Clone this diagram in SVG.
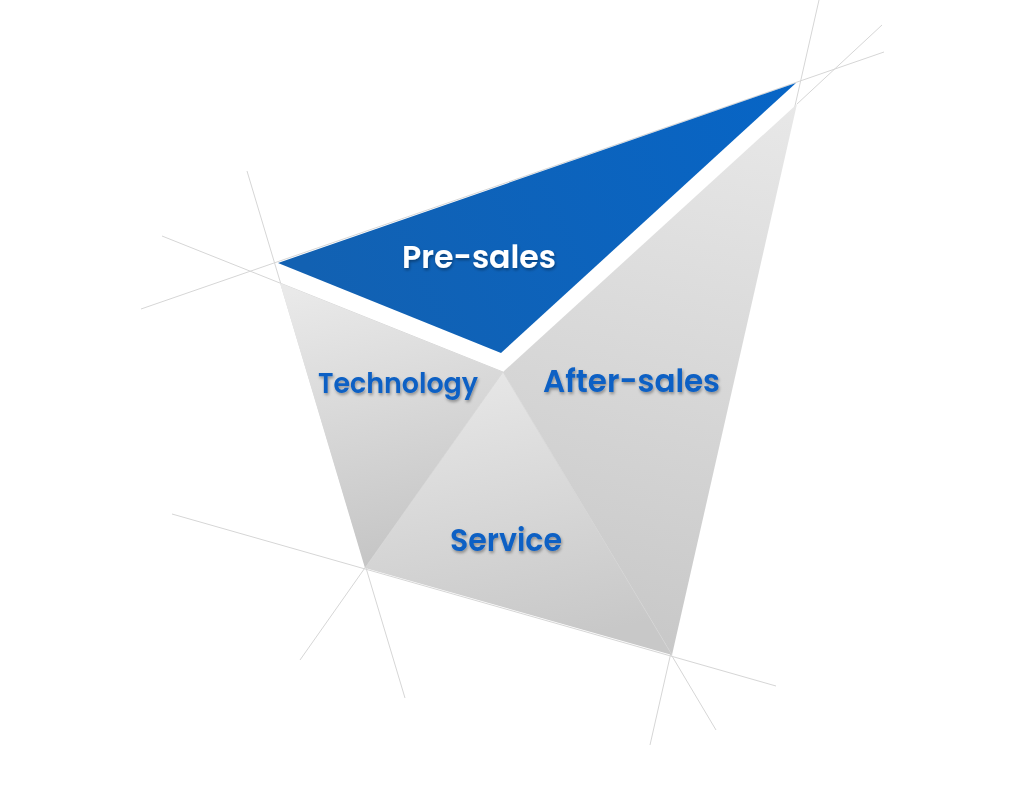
<svg xmlns="http://www.w3.org/2000/svg" width="1024" height="789" viewBox="0 0 1024 789">
  <defs>
    <style>
      .guide { stroke: #d6d6d6; stroke-width: 1; fill: none; }
      .label { font-family: Poppins, Inter, "Open Sans", "Liberation Sans", sans-serif; font-weight: 600; text-anchor: start; }
      .blue-label { fill: #0b60c4; }
      .white-label { fill: #ffffff; }
    </style>
    <filter id="shadow" x="-10%" y="-30%" width="120%" height="170%">
      <feDropShadow dx="1" dy="2" stdDeviation="1.5" flood-color="#000000" flood-opacity="0.35"/>
    </filter>
    <linearGradient id="gBlue" gradientUnits="userSpaceOnUse" x1="796" y1="83" x2="320" y2="300">
      <stop offset="0" stop-color="#0765c6"/>
      <stop offset="1" stop-color="#1261b2"/>
    </linearGradient>
    <linearGradient id="gTech" gradientUnits="userSpaceOnUse" x1="300" y1="290" x2="370" y2="568">
      <stop offset="0" stop-color="#e9e9e9"/>
      <stop offset="1" stop-color="#c5c5c5"/>
    </linearGradient>
    <linearGradient id="gAfter" gradientUnits="userSpaceOnUse" x1="797" y1="104" x2="672" y2="655">
      <stop offset="0" stop-color="#e8e8e8"/>
      <stop offset="1" stop-color="#c8c8c8"/>
    </linearGradient>
    <linearGradient id="gService" gradientUnits="userSpaceOnUse" x1="503" y1="372" x2="560" y2="640">
      <stop offset="0" stop-color="#e6e6e6"/>
      <stop offset="1" stop-color="#c8c8c8"/>
    </linearGradient>
  </defs>

  <rect width="1024" height="789" fill="#ffffff"/>

  <g id="guides">
    <line class="guide" x1="247" y1="171" x2="405" y2="698"/>
    <line class="guide" x1="162" y1="236" x2="503" y2="372"/>
    <line class="guide" x1="141" y1="309" x2="884" y2="52"/>
    <line class="guide" x1="819" y1="0" x2="650" y2="745"/>
    <line class="guide" x1="882" y1="25" x2="797" y2="104"/>
    <line class="guide" x1="503" y1="372" x2="300" y2="660"/>
    <line class="guide" x1="172" y1="514" x2="776" y2="686"/>
    <line class="guide" x1="503" y1="372" x2="716" y2="730"/>
  </g>

  <g id="technology">
    <polygon points="280,283 503,372 365,568" fill="url(#gTech)"/>
    <text class="label blue-label" x="318" y="393" font-size="28" textLength="160" lengthAdjust="spacingAndGlyphs" filter="url(#shadow)">Technology</text>
  </g>

  <g id="after-sales">
    <polygon points="503,372 797,104 672,655" fill="url(#gAfter)"/>
    <text class="label blue-label" x="543" y="392" font-size="32" textLength="177" lengthAdjust="spacingAndGlyphs" filter="url(#shadow)">After-sales</text>
  </g>

  <g id="service">
    <polygon points="503,372 365,568 672,655" fill="url(#gService)"/>
    <text class="label blue-label" x="450" y="551" font-size="32" textLength="112" lengthAdjust="spacingAndGlyphs" filter="url(#shadow)">Service</text>
  </g>

  <g id="guides-over" opacity="0.6">
    <line class="guide" x1="503" y1="372" x2="365" y2="568"/>
    <line class="guide" x1="503" y1="372" x2="672" y2="655"/>
  </g>

  <g id="pre-sales">
    <polygon points="278,263 796,83 501,353" fill="url(#gBlue)"/>
    <text class="label white-label" x="402" y="268" font-size="31" textLength="154" lengthAdjust="spacingAndGlyphs" filter="url(#shadow)">Pre-sales</text>
  </g>
</svg>
